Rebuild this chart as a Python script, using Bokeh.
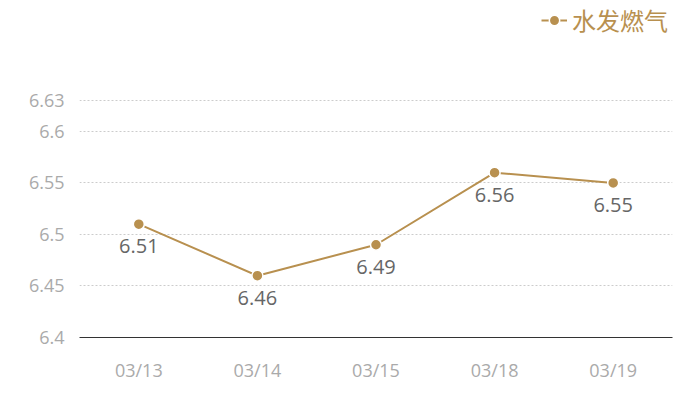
from bokeh.plotting import figure
from bokeh.models import FactorRange, Range1d, FixedTicker, ColumnDataSource, LabelSet, Legend, LegendItem
from bokeh.core.properties import value
from bokeh.embed import file_html
from bokeh.resources import INLINE

dates = ["03/13", "03/14", "03/15", "03/18", "03/19"]
values = [6.51, 6.46, 6.49, 6.56, 6.55]
y_ticks = [6.4, 6.45, 6.5, 6.55, 6.6, 6.63]
series_name = "水发燃气"

gold = "#B8904F"
font = "Open Sans"
cjk_font = "Noto Sans CJK SC"

# Frame extends to the canvas top (space for legend); y scale keeps 6.63 at 100px from top
y_min, y_max = 6.4, 6.63
y_top = y_max + (100 / 237) * (y_max - y_min)

src = ColumnDataSource(dict(x=dates, y=values, lab=[f"{v:.2f}" for v in values]))

p = figure(width=700, height=400, x_range=FactorRange(*dates), y_range=Range1d(y_min, y_top),
           output_backend="svg", toolbar_location=None,
           min_border_left=79, min_border_right=28, min_border_top=0, min_border_bottom=63)
p.outline_line_color = None
p.background_fill_color = "white"

r_line = p.line("x", "y", source=src, line_color=gold, line_width=2)
r_pt = p.scatter("x", "y", source=src, size=11, fill_color=gold, line_color="white", line_width=1.5)

labels = LabelSet(x="x", y="y", text="lab", source=src, y_offset=-22, text_align="center",
                  text_baseline="middle", text_color="#666666", text_font_size="20px",
                  text_font=value(font))
p.add_layout(labels)

p.yaxis.ticker = FixedTicker(ticks=y_ticks)
p.yaxis.axis_line_color = None
p.yaxis.major_tick_line_color = None
p.yaxis.minor_tick_line_color = None
p.yaxis.major_label_text_color = "#aaaaaa"
p.yaxis.major_label_text_font_size = "18px"
p.yaxis.major_label_text_font = font
p.yaxis.major_label_standoff = 9

p.xaxis.axis_line_color = "#333333"
p.xaxis.axis_line_width = 1
p.xaxis.major_tick_line_color = None
p.xaxis.minor_tick_line_color = None
p.xaxis.major_label_text_color = "#aaaaaa"
p.xaxis.major_label_text_font_size = "18px"
p.xaxis.major_label_text_font = font
p.xaxis.major_label_standoff = 14

p.xgrid.grid_line_color = None
p.ygrid.grid_line_color = "#cccccc"
p.ygrid.grid_line_dash = "2 2"
p.ygrid.grid_line_width = 1

legend = Legend(items=[LegendItem(label=series_name, renderers=[r_line, r_pt])],
                location=(462, 300), orientation="horizontal",
                label_text_font_size="24px", label_text_color=gold, label_text_font=cjk_font,
                border_line_color=None, background_fill_alpha=0, padding=0, margin=0,
                glyph_width=26, glyph_height=28, label_standoff=5, label_height=28)
p.add_layout(legend)

open("out.html", "w").write(file_html(p, INLINE))
